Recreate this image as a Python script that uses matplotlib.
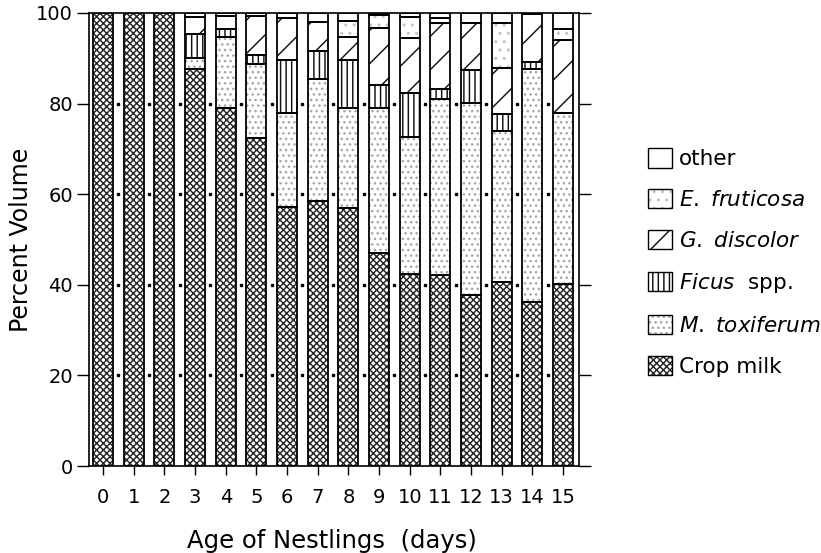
import numpy as np
import matplotlib
matplotlib.use("Agg")
import matplotlib.pyplot as plt
from matplotlib.patches import Patch

plt.rcParams['font.family'] = ['DejaVu Sans']
plt.rcParams['hatch.linewidth'] = 1.05

# Percent volume of diet per nestling age
days = list(range(16))
crop_milk = [100, 100, 100, 87.6, 79.0, 72.3, 57.1, 58.6, 56.9, 47.1, 42.4, 42.2, 37.7, 40.7, 36.3, 40.2]
m_toxiferum = [0, 0, 0, 2.5, 15.8, 16.4, 20.8, 26.8, 22.1, 31.9, 30.3, 38.8, 42.4, 33.3, 51.3, 37.8]
ficus = [0, 0, 0, 5.2, 1.6, 2.0, 11.7, 6.3, 10.6, 5.1, 9.6, 2.2, 7.3, 3.7, 1.5, 0]
g_discolor = [0, 0, 0, 3.9, 3.0, 8.6, 9.2, 6.4, 5.2, 12.5, 12.1, 14.7, 10.3, 10.1, 10.6, 16.0]
e_fruticosa = [0, 0, 0, 0, 0, 0, 0, 0, 3.5, 2.9, 4.8, 0.9, 0, 9.9, 0, 2.4]
other = [0, 0, 0, 0.8, 0.6, 0.7, 1.2, 1.9, 1.7, 0.5, 0.8, 1.2, 2.3, 2.3, 0.3, 3.6]

y_ticks = [0, 20, 40, 60, 80, 100]

# bottom -> top stacking order, with fill style
series = [
    ('Crop milk', crop_milk, 'xxxxx', '#262626'),
    (r'$\mathit{M.\ toxiferum}$', m_toxiferum, '...', '#a8a8a8'),
    (r'$\mathit{Ficus}$  spp.', ficus, '|||', '#111111'),
    (r'$\mathit{G.\ discolor}$', g_discolor, '/', '#111111'),
    (r'$\mathit{E.\ fruticosa}$', e_fruticosa, '..', '#c4c4c4'),
    ('other', other, None, 'white'),
]

fig = plt.figure(figsize=(8.21, 5.53), dpi=100)
ax = fig.add_axes([89 / 821, 1 - 466 / 553, 490 / 821, 453 / 553])

x = np.array(days)
width = 0.65
bottom = np.zeros(len(days))
handles = []
for label, vals, hatch, hcol in series:
    vals = np.array(vals, dtype=float)
    mask = vals > 0
    ax.bar(x[mask], vals[mask], width, bottom=bottom[mask], color='white',
           edgecolor=hcol, hatch=hatch, linewidth=0, zorder=2)
    ax.bar(x[mask], vals[mask], width, bottom=bottom[mask], fill=False,
           edgecolor='black', linewidth=1.3, zorder=3)
    bottom += vals
    handles.append((Patch(facecolor='white', edgecolor=hcol, hatch=hatch, linewidth=0),
                    Patch(fill=False, edgecolor='black', linewidth=1.0)))

# dotted reference marks between the bars
gaps = x[:-1] + 0.5
for lvl in y_ticks[1:-1]:
    ax.plot(gaps, [lvl] * len(gaps), linestyle='none', marker='s',
            markersize=1.6, color='black', zorder=1)

ax.set_xlim(-0.46, 15.52)
ax.set_ylim(0, 100)
ax.set_xticks(days)
ax.set_yticks(y_ticks)
ax.tick_params(axis='y', direction='out', length=8.5, width=1.0, labelsize=14,
               pad=3, right=True, labelright=False)
ax.tick_params(axis='x', direction='out', length=6.5, width=1.0, labelsize=14, pad=9)
for sp in ax.spines.values():
    sp.set_linewidth(1.2)

fig.text(21 / 821, 1 - 240 / 553, 'Percent Volume', rotation=90,
         ha='center', va='center', fontsize=17)
fig.text(332 / 821, 1 - 541 / 553, 'Age of Nestlings  (days)',
         ha='center', va='center', fontsize=17.5)

leg = ax.legend(handles[::-1], [s[0] for s in series][::-1],
                loc='upper left', bbox_to_anchor=(648 / 821, 1 - 148 / 553),
                bbox_transform=fig.transFigure, frameon=False, fontsize=15.5,
                handlelength=1.12, handleheight=1.02, handletextpad=0.3,
                labelspacing=0.92, borderpad=0, borderaxespad=0)

fig.savefig('out.png', dpi=100)
